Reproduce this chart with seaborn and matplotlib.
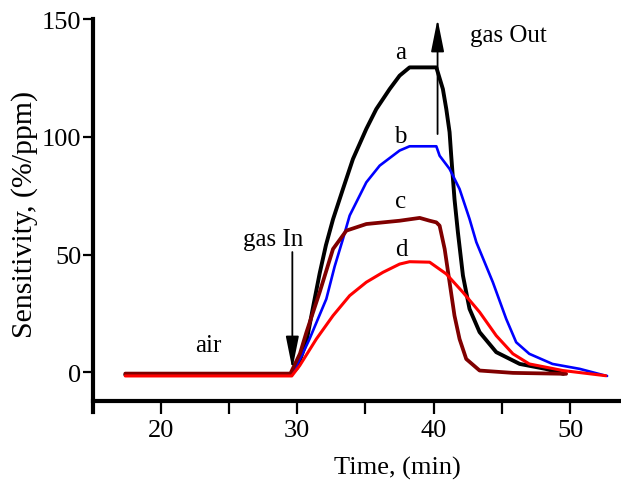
import matplotlib
matplotlib.use("Agg")
import matplotlib.pyplot as plt
import seaborn as sns
import pandas as pd

# curve data (time in min, sensitivity in %/ppm)
t_a = [17.4, 29.5, 30.0, 30.67, 31.2, 31.64, 32.1, 32.62, 33.35, 34.08, 35.06, 35.79, 36.77,
       37.5, 38.23, 40.19, 40.67, 40.92, 41.16, 41.28, 41.52, 41.77, 42.14, 42.62, 43.36,
       44.58, 46.3, 48.2, 49.5]
v_a = [-1, -1, 2, 13, 29, 42, 54, 65, 77.9, 90.6, 103.4, 111.8, 120.3,
       126, 129.5, 129.5, 120.3, 111.8, 102, 92, 73.6, 59.5, 41.1, 27, 17.1,
       8.6, 3.6, 1.5, -0.6]

t_b = [17.4, 29.6, 30.4, 30.9, 32.13, 32.74, 33.35, 33.84, 35.06, 36.04, 37.5, 38.23, 40.19,
       40.43, 41.16, 41.89, 42.62, 43.12, 44.33, 45.31, 46.04, 47.0, 48.7, 50.7, 52.4, 52.7]
v_b = [-1, -1, 8, 14.2, 31.2, 45, 56.7, 66.6, 80.7, 87.8, 94.2, 96, 96,
       92, 86.4, 77.9, 65.2, 55.3, 38.3, 22.7, 12.8, 7.9, 3.6, 1.5, -1.1, -1.5]

t_c = [17.4, 29.5, 30.2, 30.67, 31.64, 32.62, 33.6, 35.06, 37.5, 38.97, 39.7, 40.19, 40.43,
       40.8, 41.16, 41.52, 41.89, 42.38, 43.36, 45.8, 49.7]
v_c = [-0.5, -0.5, 8, 17, 34, 52.4, 60.2, 63, 64.4, 65.6, 64.4, 63.7, 62.3,
       52.4, 38.3, 24.1, 14.2, 5.7, 0.8, -0.2, -0.6]

t_d = [17.4, 29.6, 30.18, 31.4, 32.62, 33.84, 35.06, 36.28, 37.5, 38.23, 39.7, 40.92, 42.14,
       43.36, 44.58, 45.8, 47.0, 49.46, 52.6]
v_d = [-1.5, -1.5, 2.9, 14.2, 24.1, 32.6, 38.3, 42.5, 46, 47, 46.8, 41.8, 34,
       25.6, 15.6, 7.9, 3.6, 0.8, -1.4]

curve_names = ["a", "b", "c", "d"]
curve_colors = ["#000000", "#0000ff", "#800000", "#ff0000"]
curve_widths = [2.8, 1.9, 2.7, 2.2]

x_major = [20, 30, 40, 50]
x_minor = [25, 35, 45]
y_ticks = [0, 50, 100, 150]

sns.set_style("ticks", {"axes.edgecolor": "black", "text.color": "black",
                        "xtick.color": "black", "ytick.color": "black",
                        "axes.labelcolor": "black"})
plt.rcParams["font.family"] = ["Liberation Serif", "DejaVu Serif"]

fig = plt.figure(figsize=(6.21, 4.81), dpi=100)
ax = fig.add_axes([0.149, 0.1414, 0.851, 0.8168])

series = [(t_a, v_a), (t_b, v_b), (t_c, v_c), (t_d, v_d)]
for (t, v), name, col, lw in zip(series, curve_names, curve_colors, curve_widths):
    df = pd.DataFrame({"time": t, "sens": v})
    sns.lineplot(data=df, x="time", y="sens", ax=ax, color=col, lw=lw,
                 estimator=None, sort=False)

ax.set_xlim(15, 53.72)
ax.set_ylim(-16.8, 150)

# axes look
for s in ["top", "right"]:
    ax.spines[s].set_visible(False)
ax.spines["left"].set_linewidth(3)
ax.spines["bottom"].set_linewidth(3)
ax.spines["bottom"].set_position(("data", -12.2))

ax.set_xticks(x_major)
ax.set_xticks(x_minor, minor=True)
ax.set_yticks(y_ticks)
ax.tick_params(axis="x", which="both", length=9, width=1.6, direction="out",
               labelsize=19, pad=4, color="black", labelcolor="black")
ax.tick_params(axis="y", length=7, width=1.6, direction="out",
               labelsize=19, pad=1, color="black", labelcolor="black")

ax.set_xlabel("Time, (min)", fontsize=19)
ax.set_ylabel("Sensitivity, (%/ppm)", fontsize=21.5)
ax.xaxis.set_label_coords(0.576, -0.112)
ax.yaxis.set_label_coords(-0.1035, 0.506)

# curve labels and notes
ax.text(37.57, 136.0, "a", fontsize=18, ha="center", va="center")
ax.text(37.57, 100.4, "b", fontsize=18, ha="center", va="center")
ax.text(37.57, 72.8, "c", fontsize=18, ha="center", va="center")
ax.text(37.65, 52.4, "d", fontsize=18, ha="center", va="center")
ax.text(23.45, 11.7, "air", fontsize=18, ha="center", va="center")
ax.text(28.24, 56.7, "gas In", fontsize=18, ha="center", va="center")
ax.text(45.48, 143.3, "gas Out", fontsize=18, ha="center", va="center")

arrow = dict(arrowstyle="-|>,head_length=1.0,head_width=0.2", color="black",
             lw=1.3, mutation_scale=20, shrinkA=0, shrinkB=0)
ax.annotate("", xy=(29.64, 1.5), xytext=(29.64, 51.1), arrowprops=arrow,
            annotation_clip=False)
ax.annotate("", xy=(40.28, 150.0), xytext=(40.28, 101.2), arrowprops=arrow,
            annotation_clip=False)

plt.savefig("out.png", dpi=100)
